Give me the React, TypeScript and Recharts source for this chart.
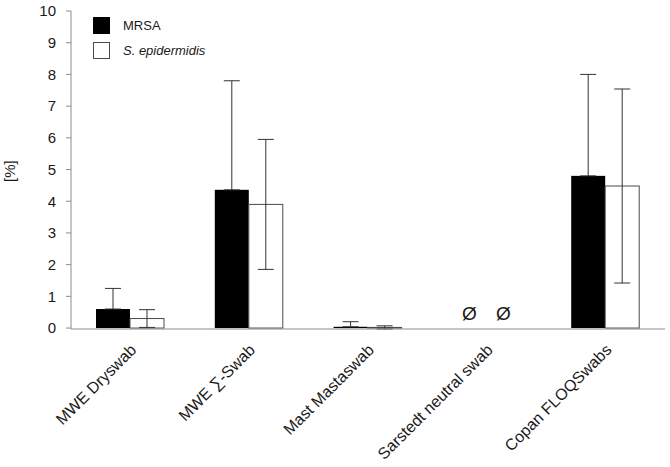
import { BarChart, Bar, XAxis, YAxis, ErrorBar } from "recharts";

const categories = [
  "MWE Dryswab",
  "MWE \u2211-Swab",
  "Mast Mastaswab",
  "Sarstedt neutral swab",
  "Copan FLOQSwabs",
];
const mrsa = [0.6, 4.36, 0.04, 0, 4.8];
const mrsaErr = [0.65, 3.44, 0.16, null, 3.2];
const epidermidis = [0.3, 3.9, 0.02, 0, 4.48];
const epidermidisErr = [0.28, 2.05, 0.05, null, 3.06];
const noGrowth = ["", "", "", "\u00D8", ""];
const yTicks = [0, 1, 2, 3, 4, 5, 6, 7, 8, 9, 10];

const data = categories.map((name, i) => ({
  name,
  mrsa: mrsa[i],
  mrsaErr: mrsaErr[i] == null ? null : [0, mrsaErr[i]],
  epi: epidermidis[i],
  epiErr: epidermidisErr[i],
}));

const FONT = "'Liberation Sans', Arial, Helvetica, sans-serif";

function CategoryTick(props: any) {
  const { x, y, payload } = props;
  const ax = x + 3;
  const ay = y + 10;
  return (
    <text
      x={ax}
      y={ay}
      dy="0.35em"
      textAnchor="end"
      fontSize={16}
      fontFamily={FONT}
      fill="#1a1a1a"
      transform={`rotate(-45, ${ax}, ${ay})`}
    >
      {payload.value}
    </text>
  );
}

// bar shape that also writes the "no growth" mark above empty bars
function BarWithMark(props: any) {
  const { x, y, width, height, fill, stroke, strokeWidth, index } = props;
  const mark = noGrowth[index];
  return (
    <g>
      {height > 0 && (
        <rect x={x} y={y} width={width} height={height} fill={fill} stroke={stroke} strokeWidth={strokeWidth} />
      )}
      {mark && (
        <text x={x + width / 2} y={y + height - 8} textAnchor="middle" fontSize={19} fontFamily={FONT} fill="#1a1a1a">
          {mark}
        </text>
      )}
    </g>
  );
}

export default function App() {
  return (
    <div style={{ position: "absolute", left: 0, top: 0, background: "#fff", fontFamily: FONT }}>
      <BarChart
        width={670}
        height={467}
        data={data}
        margin={{ top: 11, right: 5, left: 0, bottom: 0 }}
        barGap={0}
        barSize={34}
      >
        <XAxis
          dataKey="name"
          interval={0}
          height={138}
          tickLine={false}
          axisLine={{ stroke: "#8c8c8c" }}
          tick={<CategoryTick />}
        />
        <YAxis
          domain={[0, 10]}
          ticks={yTicks}
          width={71}
          interval={0}
          tickSize={5}
          tickMargin={10}
          axisLine={{ stroke: "#8c8c8c" }}
          tickLine={{ stroke: "#8c8c8c" }}
          tick={{ fontSize: 15, fill: "#1a1a1a", fontFamily: FONT }}
          label={{
            value: "[%]",
            angle: -90,
            position: "insideLeft",
            dx: 5,
            dy: 12,
            fontSize: 15,
            fill: "#1a1a1a",
            fontFamily: FONT,
          }}
        />
        <Bar dataKey="mrsa" fill="#000" shape={<BarWithMark />} isAnimationActive={false}>
          <ErrorBar dataKey="mrsaErr" width={8} stroke="#333" strokeWidth={1} />
        </Bar>
        <Bar
          dataKey="epi"
          fill="#fff"
          stroke="#4a4a4a"
          strokeWidth={1}
          shape={<BarWithMark />}
          isAnimationActive={false}
        >
          <ErrorBar dataKey="epiErr" width={8} stroke="#333" strokeWidth={1} />
        </Bar>
      </BarChart>
      <div style={{ position: "absolute", left: 93, top: 17, fontSize: 13, color: "#1a1a1a" }}>
        <div style={{ display: "flex", alignItems: "center", height: 17 }}>
          <span style={{ width: 17, height: 17, background: "#000", display: "inline-block" }} />
          <span style={{ marginLeft: 13 }}>MRSA</span>
        </div>
        <div style={{ display: "flex", alignItems: "center", height: 17, marginTop: 8 }}>
          <span
            style={{
              width: 15,
              height: 15,
              background: "#fff",
              border: "1px solid #4a4a4a",
              display: "inline-block",
            }}
          />
          <span style={{ marginLeft: 13, fontStyle: "italic" }}>S. epidermidis</span>
        </div>
      </div>
    </div>
  );
}
